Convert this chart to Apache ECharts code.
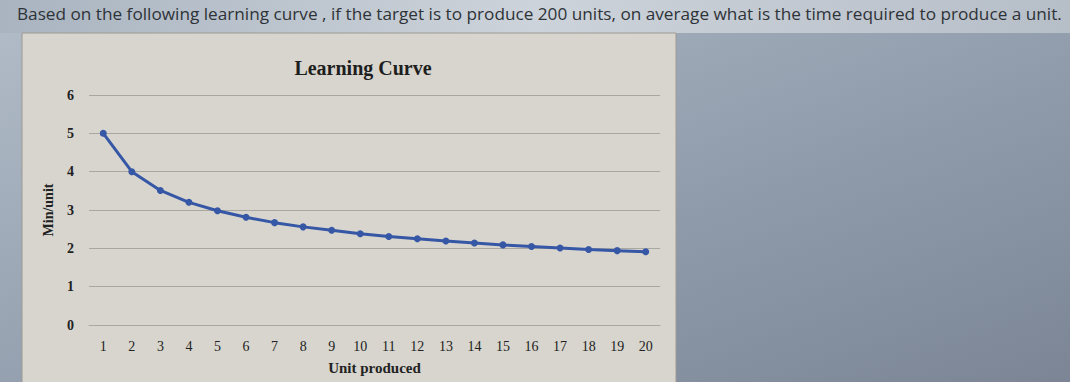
<!DOCTYPE html>
<html>
<head>
<meta charset="utf-8">
<script src="https://cdn.jsdelivr.net/npm/echarts@6/dist/echarts.min.js"></script>
<style>
html,body{margin:0;padding:0;width:1070px;height:382px;overflow:hidden;}
#chart{width:1070px;height:382px;}
</style>
</head>
<body>
<div id="chart"></div>
<script>
const questionText = "Based on the following learning curve , if the target is to produce 200 units, on average what is the time required to produce a unit.";
const chartTitle = "Learning Curve";
const xAxisName = "Unit produced";
const yAxisName = "Min/unit";
const units = ["1","2","3","4","5","6","7","8","9","10","11","12","13","14","15","16","17","18","19","20"];
const minPerUnit = [5, 4, 3.51, 3.2, 2.98, 2.81, 2.67, 2.56, 2.47, 2.38, 2.31, 2.25, 2.19, 2.14, 2.09, 2.05, 2.01, 1.97, 1.94, 1.91];

const chart = echarts.init(document.getElementById('chart'), null, {renderer: 'svg'});
const serif = '"Liberation Serif", "DejaVu Serif", serif';
chart.setOption({
  backgroundColor: 'transparent',
  graphic: [
    {type: 'rect', z: -10, shape: {x: 0, y: 0, width: 1070, height: 382},
      style: {fill: new echarts.graphic.LinearGradient(0, 0, 1, 1, [
        {offset: 0, color: '#b3bdc9'}, {offset: 0.6, color: '#8f9bab'}, {offset: 1, color: '#7b8595'}])}},
    {type: 'rect', z: -9, shape: {x: 0, y: 0, width: 1070, height: 33},
      style: {fill: new echarts.graphic.LinearGradient(0, 0, 1, 0, [
        {offset: 0, color: '#a9b4c0'}, {offset: 0.5, color: '#cdd3da'}, {offset: 1, color: '#b6bec8'}])}},
    {type: 'rect', z: -8, shape: {x: 22, y: 33, width: 654, height: 360},
      style: {fill: '#d7d5cd', stroke: '#9c9a94', lineWidth: 1}},
    {type: 'text', z: 5, left: 17, top: 5,
      style: {text: questionText, fill: '#2e3338', font: '17.2px "Open Sans", "Liberation Sans", sans-serif'}}
  ],
  title: {
    text: chartTitle, left: 358, top: 53, textAlign: 'center',
    textStyle: {fontFamily: serif, fontSize: 20, fontWeight: 'bold', color: '#1e1e1e'}
  },
  grid: {left: 89, right: 410, top: 95, bottom: 57, containLabel: false},
  xAxis: {
    type: 'category', data: units, boundaryGap: true,
    name: xAxisName, nameLocation: 'middle', nameGap: 35,
    nameTextStyle: {fontFamily: serif, fontSize: 15, fontWeight: 'bold', color: '#222'},
    axisLine: {show: true, lineStyle: {color: '#aaa8a2'}},
    axisTick: {show: false},
    axisLabel: {fontFamily: serif, fontSize: 14, color: '#222', margin: 14}
  },
  yAxis: {
    type: 'value', min: 0, max: 6, interval: 1,
    name: yAxisName, nameLocation: 'middle', nameGap: 34, nameRotate: 90,
    nameTextStyle: {fontFamily: serif, fontSize: 14, fontWeight: 'bold', color: '#222', padding: [0, 0, 0, 0]},
    axisLine: {show: false}, axisTick: {show: false},
    axisLabel: {fontFamily: serif, fontSize: 14, fontWeight: 'bold', color: '#222', margin: 15},
    splitLine: {lineStyle: {color: '#a8a7a2', width: 1}}
  },
  series: [{
    type: 'line', data: minPerUnit,
    symbol: 'circle', symbolSize: 7,
    lineStyle: {color: '#3657a6', width: 3},
    itemStyle: {color: '#3657a6'}
  }]
});
</script>
</body>
</html>
